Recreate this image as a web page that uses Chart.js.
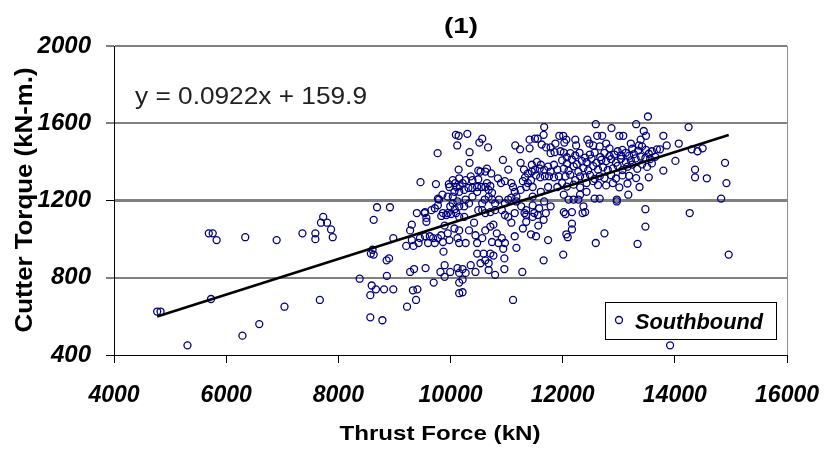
<!DOCTYPE html>
<html>
<head>
<meta charset="utf-8">
<script src="https://cdn.jsdelivr.net/npm/chart.js@4.4.1/dist/chart.umd.min.js"></script>
<style>
  body { margin: 0; background: #fff; }
  #wrap { width: 838px; height: 451px; }
</style>
</head>
<body>
<div id="wrap"><canvas id="myChart" width="838" height="451"></canvas></div>
<script>
const chartTitle = '(1)'
const xTitle = 'Thrust Force (kN)'
const yTitle = 'Cutter Torque (kN-m.)'
const seriesName = 'Southbound'

const xTicks = [4000, 6000, 8000, 10000, 12000, 14000, 16000]
const yTicks = [400, 800, 1200, 1600, 2000]

// linear fit shown on the chart
const trendSlope = 0.0922
const trendIntercept = 159.9

// [thrust force kN, cutter torque kN-m]
const southbound = [
  [4770,625],[4830,625],[5310,450],[5690,1030],[5760,1030],[5830,995],[5730,690],[6340,1010],[6290,500],[6590,560],
  [6900,995],[7040,650],[7360,1030],[7590,1030],[7590,1000],[7670,685],[7730,1115],[7690,1085],[7800,1085],[7870,1050],
  [7900,1010],[8380,795],
  [8630,1100],[9400,1135],[9540,1135],[9570,1090],[9310,1075],[9280,1045],[9835,1120],[9925,1125],[10010,1130],[10100,1135],
  [10155,1115],[9895,1070],[10070,1055],[10155,1045],[9950,1030],[9835,1020],[9775,1005],[9690,1005],[9630,1015],[9545,1015],
  [9455,1005],[9430,980],[9340,965],[9210,965],[9310,995],[9600,980],[9720,980],[9865,985],[9980,995],[10125,1005],
  [10155,980],[9875,935],[8980,1005],[8580,925],[8630,920],[8610,945],[8860,890],[8905,900],[9280,830],[9350,845],
  [9555,850],[9820,830],[9895,865],[9895,805],[9995,830],[10125,850],[10155,825],[8865,810],[9700,775],[10155,775],
  [8595,760],[8670,740],[8815,740],[8980,740],[8570,710],[9330,735],[9410,740],[9385,685],[9225,650],[8570,595],
  [8785,580],[10155,720],[9570,1110],
  [10095,1540],[10145,1535],[10120,1485],[9770,1445],[10145,1360],[9465,1295],[9740,1285],[9970,1285],[10040,1305],[10085,1290],
  [10155,1315],[9980,1270],[10110,1270],[10165,1275],[10070,1245],[10155,1245],[10040,1220],[9950,1220],[9855,1230],[9775,1210],
  [10125,1195],[10040,1185],[10155,1170],[10075,1155],[9995,1170],[9950,1135],[9865,1135],[9775,1175],[9720,1160],[9660,1150],
  [9545,1140],[9795,1205],[8690,1165],[8920,1165],
  [10300,1545],[10515,1500],[10565,1520],[10670,1475],[10340,1450],[10340,1395],[10935,1410],[11030,1360],[11155,1485],[11240,1465],
  [11410,1515],[11505,1520],[11555,1520],[11670,1580],[11660,1540],[11625,1490],[11705,1475],[11785,1475],[11870,1495],[11940,1535],
  [11785,1445],[11855,1450],[11410,1470],[11250,1395],[11310,1360],[11450,1385],[11540,1400],[11610,1385],[11505,1360],[11590,1365],
  [11670,1360],[11740,1375],[11785,1350],[11845,1385],[11905,1360],[11930,1325],[11845,1320],[11755,1325],[11680,1325],[11600,1320],
  [11525,1330],[11450,1350],[11380,1340],[11330,1320],[11290,1300],[11380,1290],[11435,1305],[11465,1270],[11350,1270],[11250,1255],
  [11145,1245],[11175,1220],[11085,1215],[11030,1205],[10970,1185],[10865,1205],[10915,1150],[10795,1185],[10740,1205],[10680,1220],
  [10610,1205],[10565,1185],[10495,1150],[10565,1150],[10620,1135],[10710,1140],[10795,1150],[10740,1240],[10680,1255],[10710,1275],
  [10620,1270],[10550,1270],[10475,1270],[10475,1245],[10390,1265],[10320,1265],[10245,1255],[10215,1290],[10270,1305],[10360,1325],
  [10390,1305],[10495,1310],[10535,1350],[10495,1355],[10620,1350],[10650,1365],[10725,1340],[10650,1290],[10270,1205],[10245,1170],
  [10330,1185],[11175,1195],[11260,1170],[11350,1150],[11465,1175],[11580,1160],[11670,1195],[11785,1170],[11700,1135],[11495,1135],
  [11320,1135],[11145,1135],[10970,1125],[11085,1290],[10970,1300],[10900,1290],[10845,1315],[11115,1270],[10390,1220],[11465,1220],
  [11610,1245],[11740,1270],[11905,1270],
  [10245,1115],[10420,1085],[10330,1045],[10445,1020],[10270,980],[10475,980],[10565,1005],[10620,1045],[10710,1065],[10765,1075],
  [10825,1030],[10740,985],[10915,1005],[10970,980],[10855,980],[10590,925],[10475,925],[10710,925],[10765,915],[10940,950],
  [11145,1015],[11175,955],[10960,900],[10680,875],[10620,890],[10535,875],[10360,865],[10445,830],[10270,825],[10215,845],
  [10680,840],[10795,815],[10960,845],[11280,830],[11660,890],[11740,995],[11525,1015],[11435,1025],[11565,1070],[11660,1100],
  [11290,1055],[11350,1090],[11465,1115],[11555,1125],[11115,685],[10215,790],[10215,725],[11085,1085],[11030,1115],[11350,1125],
  [13520,1635],[12590,1595],[13310,1595],[12870,1575],[13445,1560],[13485,1535],[12615,1535],[12705,1535],[13010,1535],[13080,1535],
  [13390,1515],[13360,1485],[12010,1535],[12065,1515],[12030,1500],[12225,1515],[12240,1485],[12440,1515],[12475,1495],[12545,1485],
  [12660,1480],[12775,1495],[12835,1470],[12980,1455],[13065,1462],[13215,1495],[13240,1468],[13345,1458],[13415,1480],[13485,1462],
  [13535,1442],[13590,1455],[13680,1465],[13270,1440],[13185,1432],[13125,1447],[13040,1433],[12920,1438],[12835,1430],[12745,1447],
  [12670,1425],[12570,1448],[12485,1438],[12400,1422],[12300,1447],[12225,1433],[12135,1445],[12075,1424],[12020,1448],[11960,1455],
  [11990,1408],[12075,1392],[12165,1412],[12250,1388],[12340,1405],[12425,1398],[12515,1417],[12600,1395],[12690,1410],[12775,1404],
  [12865,1414],[12950,1396],[13040,1416],[13125,1398],[13215,1408],[13300,1418],[13390,1428],[13475,1420],[13560,1415],[13650,1426],
  [12020,1365],[12105,1355],[12195,1377],[12280,1349],[12370,1368],[12455,1356],[12545,1378],[12630,1360],[12805,1358],[12720,1372],
  [12895,1366],[12980,1379],[13065,1357],[13155,1375],[13240,1386],[13330,1364],[13415,1387],[13505,1374],[13590,1392],[12050,1325],
  [12135,1334],[12225,1305],[12310,1325],[12400,1320],[12485,1333],[12570,1312],[12660,1326],[12745,1316],[12865,1331],[12950,1314],
  [13065,1330],[13185,1328],[13310,1316],[13535,1320],[11990,1290],[12075,1272],[12195,1282],[12310,1268],[12425,1290],[12545,1300],
  [12630,1280],[12775,1278],[12895,1290],[13010,1268],[13155,1288],[13370,1270],[12020,1230],[12195,1205],[12105,1205],[12280,1205],
  [12310,1230],[12570,1210],[12660,1210],[12965,1205],[13170,1230],[12370,1170],[12400,1140],[12165,1140],[12020,1140],[13475,1155],
  [12425,1245],
  [12010,920],[12590,980],[12745,1030],[13335,975],[13475,1065],[12090,1010],[12065,1025],[12165,1050],[12165,1080],[12050,1130],
  [12355,1135],
  [14245,1580],[13795,1535],[13855,1485],[13735,1465],[14070,1495],[14300,1465],[14405,1455],[14495,1470],[14010,1405],[13795,1355],
  [14360,1360],[14360,1320],[14570,1315],[14895,1395],[14920,1290],[14825,1210],[14265,1135],[14960,920],[13915,450],[12965,1195]
]

const FONT = '"Liberation Sans", Arial, sans-serif'

// draws a text squeezed/stretched to the measured width of the original
const fitText = (ctx, text, x, y, width, font, align, rotate, color) => {
  ctx.save()
  ctx.font = font
  ctx.fillStyle = color || '#000'
  ctx.textBaseline = 'alphabetic'
  const w = ctx.measureText(text).width
  ctx.translate(x, y)
  if (rotate) ctx.rotate(-Math.PI / 2)
  ctx.scale(width / w, 1)
  ctx.textAlign = align
  ctx.fillText(text, 0, 0)
  ctx.restore()
}

const decorations = {
  id: 'decorations',
  afterDraw(chart) {
    const ctx = chart.ctx
    const area = chart.chartArea

    // right edge of the plot frame
    ctx.save()
    ctx.strokeStyle = '#8c8c8c'
    ctx.lineWidth = 1
    ctx.beginPath()
    ctx.moveTo(area.right + 0.5, area.top)
    ctx.lineTo(area.right + 0.5, area.bottom)
    ctx.stroke()
    ctx.restore()

    fitText(ctx, chartTitle, 461, 33, 34, 'bold 22px ' + FONT, 'center')
    fitText(ctx, xTitle, 440, 440, 201, 'bold 21px ' + FONT, 'center')
    fitText(ctx, yTitle, 32, 200, 265, 'bold 23px ' + FONT, 'center', true)
    fitText(ctx, `y = ${trendSlope}x + ${trendIntercept}`, 135, 104, 232, '23px ' + FONT, 'left', false, '#222')

    // legend box
    ctx.save()
    ctx.fillStyle = '#fff'
    ctx.fillRect(605, 302, 171, 37)
    ctx.strokeStyle = '#000'
    ctx.lineWidth = 1
    ctx.strokeRect(605.5, 302.5, 171, 37)
    ctx.strokeStyle = '#000080'
    ctx.lineWidth = 1.3
    ctx.beginPath()
    ctx.arc(619, 320, 3.5, 0, Math.PI * 2)
    ctx.stroke()
    ctx.restore()
    fitText(ctx, seriesName, 635, 329, 128, 'italic bold 22px ' + FONT, 'left')
  }
}

const xs = southbound.map(p => p[0])
const trendStart = Math.min(...xs)
const trendEnd = Math.max(...xs)

const ctx = document.getElementById('myChart')

new Chart(ctx, {
  type: 'scatter',
  data: {
    datasets: [
      {
        label: 'trend',
        type: 'line',
        data: [
          { x: trendStart, y: trendSlope * trendStart + trendIntercept },
          { x: trendEnd, y: trendSlope * trendEnd + trendIntercept }
        ],
        borderColor: '#000',
        borderWidth: 2.5,
        pointRadius: 0,
        fill: false,
        order: 0
      },
      {
        label: seriesName,
        data: southbound.map(p => ({ x: p[0], y: p[1] })),
        pointRadius: 3.5,
        pointBorderWidth: 1.3,
        borderColor: '#000080',
        backgroundColor: 'rgba(0,0,0,0)',
        order: 1
      }
    ]
  },
  options: {
    responsive: false,
    animation: false,
    devicePixelRatio: 1,
    layout: { padding: { top: 46, right: 37, left: 0, bottom: 0 } },
    plugins: {
      legend: { display: false },
      title: { display: false },
      tooltip: { enabled: false }
    },
    scales: {
      x: {
        type: 'linear',
        min: 4000,
        max: 16000,
        afterBuildTicks: scale => { scale.ticks = xTicks.map(v => ({ value: v })) },
        afterFit: scale => { scale.height = 96 },
        ticks: {
          color: '#000',
          padding: 19,
          maxRotation: 0,
          callback: v => String(v),
          font: { family: FONT, size: 23, style: 'italic', weight: 'bold' }
        },
        grid: {
          drawOnChartArea: false,
          tickLength: 8,
          tickColor: '#000',
          tickWidth: 1
        },
        border: { color: '#000', width: 1 }
      },
      y: {
        min: 400,
        max: 2000,
        afterBuildTicks: scale => { scale.ticks = yTicks.map(v => ({ value: v })) },
        afterFit: scale => { scale.width = 114 },
        ticks: {
          color: '#000',
          padding: 15,
          callback: v => String(v),
          font: { family: FONT, size: 24, style: 'italic', weight: 'bold' }
        },
        grid: {
          color: c => c.tick.value === 400 ? '#000' : '#808080',
          lineWidth: c => c.tick.value === 1200 ? 3 : (c.tick.value === 400 ? 1 : 2),
          tickLength: 8,
          tickColor: '#000',
          tickWidth: 1
        },
        border: { color: '#000', width: 1 }
      }
    }
  },
  plugins: [decorations]
})
</script>
</body>
</html>
